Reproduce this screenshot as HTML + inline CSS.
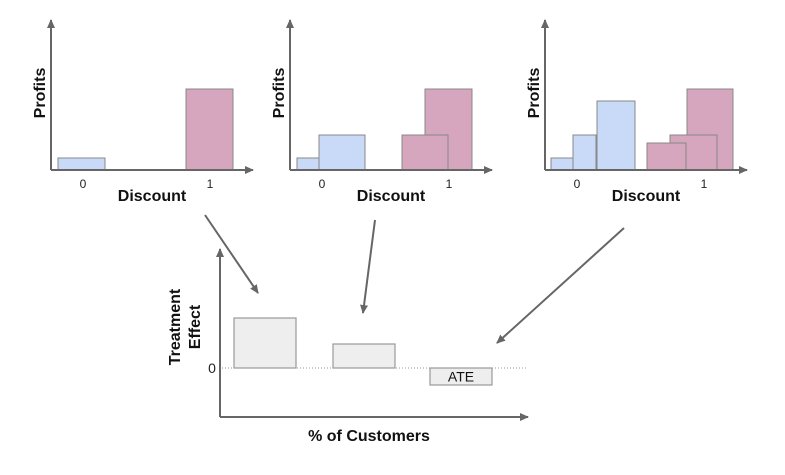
<!DOCTYPE html>
<html><head><meta charset="utf-8"><style>
html,body{margin:0;padding:0;background:#fff;}
svg{display:block;font-family:"Liberation Sans",Arial,sans-serif;}
</style></head><body>
<svg id="c" width="785" height="475" viewBox="0 0 785 475">
<defs>
<marker id="ah" markerWidth="10" markerHeight="10" refX="8" refY="5" orient="auto" markerUnits="userSpaceOnUse">
<path d="M0,1 L9,5 L0,9 z" fill="#666"/></marker>
</defs>
<g id="panels"></g>
<g id="bottom"></g>
</svg>
<script>
// Panel data: each bar = [x-left offset in units, width units, height value], group 0=control(blue),1=treatment(pink)
const panelOrigins = [51, 290, 545];
const panelControlBars = [
  [[7,47,12]],
  [[7,22,12],[29,46,35]],
  [[6,22,12],[28,23,35],[52,38,69]]
];
const panelTreatBars = [
  [[135,47,81]],
  [[135,47,81],[112,46,35]],
  [[142,46,81],[125,47,35],[102,39,27]]
];
const tickLabels = ["0","1"];
// bottom chart
const effectCategories = ["high","mid","ATE"];
const effectValues = [50, 24, -17];
const ns="http://www.w3.org/2000/svg";
function el(tag,attrs,parent,text){const e=document.createElementNS(ns,tag);for(const k in attrs)e.setAttribute(k,attrs[k]);if(text!==undefined)e.textContent=text;parent.appendChild(e);return e;}
const P=document.getElementById('panels');
const base=170, yscale=v=>base-v, xpos=(o,u)=>o+u;
panelOrigins.forEach((ox,i)=>{
  const g=el('g',{},P);
  
  
  panelControlBars[i].forEach((b,j)=>{
    const r=el('rect',{x:xpos(ox,b[0]),y:yscale(b[2]),width:b[1],height:b[2],fill:'#c9daf8',stroke:'#888','stroke-width':1},g);
    
    
  });
  panelTreatBars[i].forEach((b,j)=>{
    const r=el('rect',{x:xpos(ox,b[0]),y:yscale(b[2]),width:b[1],height:b[2],fill:'#d5a6bd',stroke:'#888','stroke-width':1},g);
    
    
  });
  const ya=el('line',{x1:ox,y1:base,x2:ox,y2:20,stroke:'#666','stroke-width':2,'marker-end':'url(#ah)'},g);
  
  
  const xa=el('line',{x1:ox,y1:base,x2:ox+202,y2:base,stroke:'#666','stroke-width':2,'marker-end':'url(#ah)'},g);
  
  
  [32,159].forEach((dx,k)=>{
    const t=el('text',{x:ox+dx,y:188,'font-size':12,'text-anchor':'middle',fill:'#222'},g,tickLabels[k]);
    
    
  });
  const xt=el('text',{x:ox+101,y:201,'font-size':16,'font-weight':'bold','text-anchor':'middle',fill:'#111'},g,'Discount');
  
  
  const yt=el('text',{x:0,y:0,'font-size':16,'font-weight':'bold','text-anchor':'middle',fill:'#111',transform:`translate(${ox-6},93) rotate(-90)`},g,'Profits');
  
  
});
const B=document.getElementById('bottom');
const zeroY=368, eScale=v=>zeroY-v, barX=[234,333,430], barW=62;
const dl=el('line',{x1:222,y1:zeroY,x2:528,y2:zeroY,stroke:'#999','stroke-width':1,'stroke-dasharray':'1,2'},B);


effectValues.forEach((v,i)=>{
  const top=Math.min(eScale(v),zeroY), h=Math.abs(v);
  const r=el('rect',{x:barX[i],y:top,width:barW,height:h,fill:'#eeeeee',stroke:'#999','stroke-width':1.2},B);
  
  
  if(effectCategories[i]==='ATE'){
    const t=el('text',{x:barX[i]+barW/2,y:top+h/2+5,'font-size':14,'text-anchor':'middle',fill:'#111'},B,'ATE');
    
    
  }
});
const bya=el('line',{x1:220,y1:417,x2:220,y2:249,stroke:'#666','stroke-width':2,'marker-end':'url(#ah)'},B);


const bxa=el('line',{x1:220,y1:417,x2:528,y2:417,stroke:'#666','stroke-width':2,'marker-end':'url(#ah)'},B);


const z=el('text',{x:212,y:373,'font-size':14,'text-anchor':'middle',fill:'#222'},B,'0');


const xt=el('text',{x:369,y:441,'font-size':16,'font-weight':'bold','text-anchor':'middle',fill:'#111'},B,'% of Customers');


const yt=el('text',{x:0,y:0,'font-size':16,'font-weight':'bold','text-anchor':'middle',fill:'#111',transform:'translate(0,0)'},B);


el('tspan',{x:-327,y:180},yt,'Treatment');
el('tspan',{x:-327,y:200},yt,'Effect');
yt.setAttribute('transform','rotate(-90)');
[[205,215,258,293],[375,220,363,313],[624,228,497,343]].forEach((a,i)=>{
  const l=el('line',{x1:a[0],y1:a[1],x2:a[2],y2:a[3],stroke:'#666','stroke-width':2,'marker-end':'url(#ah)'},B);
  
  
});
</script>
</body></html>
